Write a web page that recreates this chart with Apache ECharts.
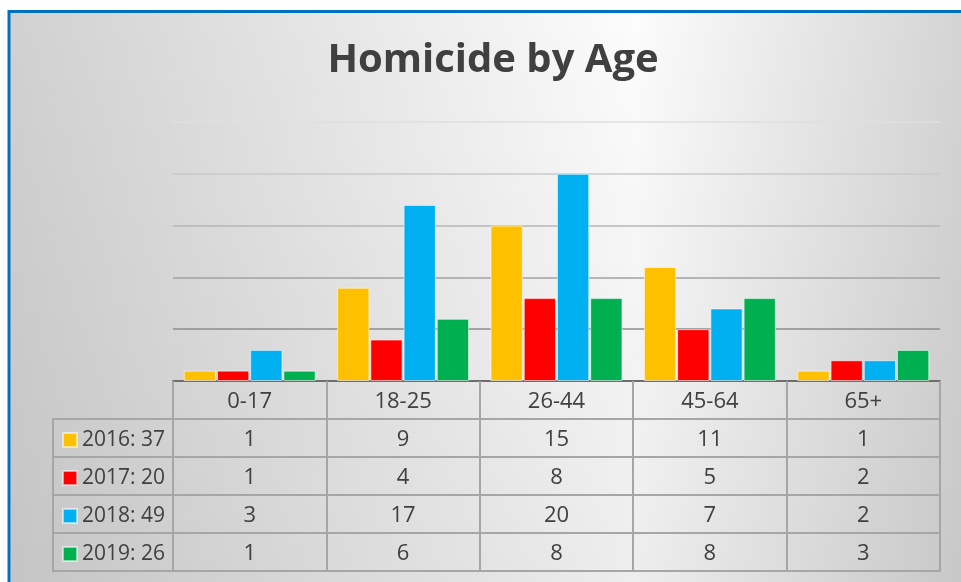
<!DOCTYPE html>
<html>
<head>
<meta charset="utf-8">
<title>Homicide by Age</title>
<script src="https://cdn.jsdelivr.net/npm/echarts@6/dist/echarts.min.js"></script>
<style>
  html, body { margin: 0; padding: 0; background: #fff; }
  #chart { width: 961px; height: 582px; }
</style>
</head>
<body>
<div id="chart"></div>
<script>
// data
var ageGroups = ['0-17', '18-25', '26-44', '45-64', '65+']
var years = ['2016', '2017', '2018', '2019']
var v2016 = [1, 9, 15, 11, 1]
var v2017 = [1, 4, 8, 5, 2]
var v2018 = [3, 17, 20, 7, 2]
var v2019 = [1, 6, 8, 8, 3]
var yearColors = ['#FFC000', '#FF0000', '#00B0F0', '#00B050']

var rows = [v2016, v2017, v2018, v2019]
var ROW_H = 38
var tableLine = '#a6a6a6'
var textColor = '#404040'
var cellFont = 22

function total(arr) {
  return arr.reduce(function (a, b) { return a + b }, 0)
}

var chart = echarts.init(document.getElementById('chart'))

// one x axis per table row, shifted down by a row height each
var xAxes = [{
  type: 'category',
  gridIndex: 0,
  position: 'bottom',
  data: ageGroups,
  axisLine: { lineStyle: { color: '#6e6e6e', width: 2 } },
  axisTick: { show: true, interval: 0, length: ROW_H, lineStyle: { color: tableLine, width: 2 } },
  axisLabel: { interval: 0, margin: 10, fontSize: cellFont, color: textColor }
}]
rows.forEach(function (vals, k) {
  xAxes.push({
    type: 'category',
    gridIndex: 0,
    position: 'bottom',
    offset: ROW_H * (k + 1),
    data: ageGroups,
    axisLine: { lineStyle: { color: tableLine, width: 2 } },
    axisTick: { show: true, interval: 0, length: ROW_H, lineStyle: { color: tableLine, width: 2 } },
    axisLabel: {
      interval: 0, margin: 10, fontSize: cellFont, color: textColor,
      formatter: function (v, i) { return String(vals[i]) }
    }
  })
})
// bottom edge of the table
xAxes.push({
  type: 'category',
  gridIndex: 0,
  position: 'bottom',
  offset: ROW_H * 5,
  data: ageGroups,
  axisLine: { lineStyle: { color: tableLine, width: 2 } },
  axisTick: { show: false },
  axisLabel: { show: false }
})

// legend column borders (left of the grid)
var legendCells = []
var tableTop = 381 + ROW_H
legendCells.push({
  type: 'rect',
  silent: true,
  shape: { x: 53, y: tableTop, width: 120, height: ROW_H * 4 },
  style: { fill: 'none', stroke: tableLine, lineWidth: 2 }
})
for (var k = 1; k < 4; k++) {
  legendCells.push({
    type: 'line',
    silent: true,
    shape: { x1: 53, y1: tableTop + ROW_H * k, x2: 173, y2: tableTop + ROW_H * k },
    style: { stroke: tableLine, lineWidth: 2 }
  })
}

var option = {
  backgroundColor: '#ffffff',
  textStyle: { fontFamily: 'Open Sans' },
  animation: false,
  title: {
    text: 'Homicide by Age',
    left: 488,
    textAlign: 'center',
    top: 36,
    textStyle: { fontSize: 40, fontWeight: 'bold', color: textColor, fontFamily: 'Open Sans' }
  },
  legend: {
    orient: 'vertical',
    left: 62,
    top: 428,
    padding: 0,
    itemWidth: 14,
    itemHeight: 14,
    itemGap: 14,
    icon: 'rect',
    selectedMode: false,
    data: years,
    textStyle: { fontSize: 21, color: textColor, lineHeight: 24 },
    formatter: function (name) {
      return name + ': ' + total(rows[years.indexOf(name)])
    }
  },
  graphic: [
    {
      type: 'rect',
      silent: true,
      z: -10,
      shape: { x: 9, y: 11.5, width: 1000, height: 700 },
      style: {
        fill: new echarts.graphic.LinearGradient(0, 0, 961, 0, [
          { offset: 0, color: '#d0d0d0' },
          { offset: 0.35, color: '#e7e7e7' },
          { offset: 0.66, color: '#fcfcfc' },
          { offset: 1, color: '#d4d4d4' }
        ], true),
        stroke: '#0070C0',
        lineWidth: 3
      }
    },
    {
      type: 'rect',
      silent: true,
      z: -9,
      shape: { x: 11, y: 13, width: 1000, height: 700 },
      style: {
        fill: new echarts.graphic.LinearGradient(0, 13, 0, 582, [
          { offset: 0, color: 'rgba(0,0,0,0)' },
          { offset: 1, color: 'rgba(0,0,0,0.06)' }
        ], true)
      }
    }
  ].concat(legendCells),
  grid: { left: 173, right: 21, top: 122, bottom: 201 },
  xAxis: xAxes,
  yAxis: {
    type: 'value',
    min: 0,
    max: 25,
    interval: 5,
    axisLabel: { show: false },
    axisLine: { show: false },
    axisTick: { show: false },
    splitLine: {
      lineStyle: {
        width: 1.5,
        color: ['#777777', '#8c8c8c', '#a2a2a2', '#b6b6b6', '#cacaca', '#dfdfdf']
      }
    }
  },
  series: years.map(function (y, i) {
    return {
      name: y,
      type: 'bar',
      xAxisIndex: 0,
      barCategoryGap: '14%',
      barGap: '3%',
      itemStyle: {
        color: yearColors[i],
        borderColor: 'rgba(255,255,255,0.55)',
        borderWidth: 1
      },
      data: rows[i]
    }
  })
}

chart.setOption(option)
</script>
</body>
</html>
